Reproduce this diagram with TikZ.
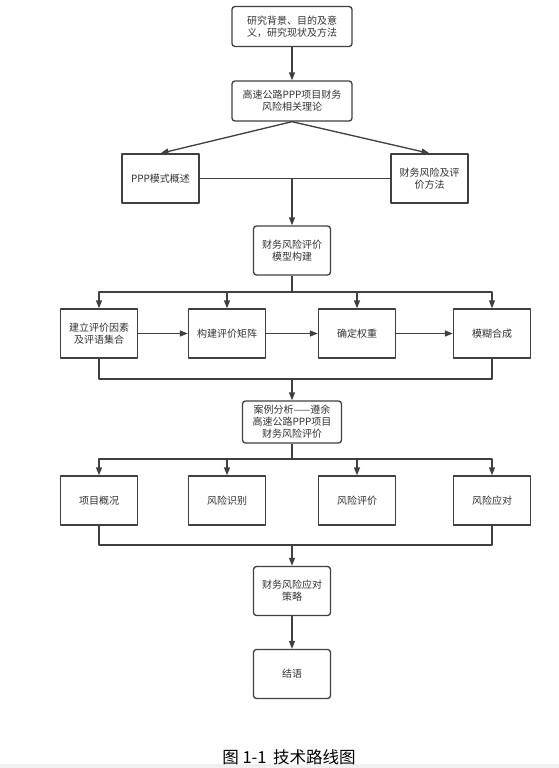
\documentclass[tikz,border=0pt]{standalone}
\usepackage{fontspec}
\setmainfont{Noto Sans CJK SC}
\usetikzlibrary{arrows.meta}
\definecolor{linegray}{HTML}{404040}
\definecolor{textgray}{HTML}{333333}
\definecolor{bargray}{HTML}{EEF0F4}
\tikzset{
	box/.style={draw=linegray,line width=1pt,fill=white,text=textgray,font=\fontsize{7.5pt}{9pt}\selectfont,align=center,inner sep=0pt,minimum width=57.75pt,minimum height=36.75pt},
	rbox/.style={box,rounded corners=2.25pt},
	link/.style={draw=linegray,line width=1pt},
}
\begin{document}
\begin{tikzpicture}[>={Triangle[length=6pt,width=4.5pt]},x=0.75pt,y=-0.75pt,line join=round]
	\useasboundingbox (0,0) rectangle (559,768);
	\fill[bargray] (0,764) rectangle (559,768);
	\def\ya{333.5}
	\def\yb{500.5}
	% top part
	\node[rbox,minimum width=90pt,minimum height=30pt] (research) at (292,26.5) {研究背景、目的及意\\义，研究现状及方法};
	\node[rbox,minimum width=90pt,minimum height=30pt] (theory) at (292,101) {高速公路PPP项目财务\\风险相关理论};
	\node[box] (ppp) at (160.5,178.5) {PPP模式概述};
	\node[box] (method) at (429.5,178.5) {财务风险及评\\价方法};
	\node[rbox] (model) at (292,250.5) {财务风险评价\\模型构建};
	% evaluation steps
	\node[box] (factor) at (99,\ya) {建立评价因素\\及评语集合};
	\node[box] (matrix) at (227,\ya) {构建评价矩阵};
	\node[box] (weight) at (357,\ya) {确定权重};
	\node[box] (fuzzy) at (492,\ya) {模糊合成};
	\node[rbox,minimum width=74.25pt,minimum height=31.5pt] (case) at (292,422) {案例分析——遵余\\高速公路PPP项目\\财务风险评价};
	% case study
	\node[box] (survey) at (99,\yb) {项目概况};
	\node[box] (identify) at (227,\yb) {风险识别};
	\node[box] (evaluate) at (357,\yb) {风险评价};
	\node[box] (respond) at (492,\yb) {风险应对};
	\node[rbox] (strategy) at (292,591) {财务风险应对\\策略};
	\node[rbox] (conclusion) at (292,674) {结语};
	\node[font=\fontsize{12.4pt}{14pt}\selectfont] (caption) at (289,757) {图 1-1\, 技术路线图};
	\coordinate (busa) at (292,292);
	\coordinate (busb) at (292,379);
	\coordinate (busc) at (292,459);
	\coordinate (busd) at (292,545);
	% connectors
	\draw[link,->] (research) -- (theory);
	\draw[link,->] (theory.south) -- (ppp.north);
	\draw[link,->] (theory.south) -- (method.north);
	\draw[link] (ppp) -- (method);
	\draw[link,->] (ppp -| model) -- (model);
	\draw[link] (model) -- (busa);
	\draw[link,->] (busa) -| (factor);
	\draw[link,->] (busa) -| (matrix);
	\draw[link,->] (busa) -| (weight);
	\draw[link,->] (busa) -| (fuzzy);
	\draw[link,->] (factor) -- (matrix);
	\draw[link,->] (matrix) -- (weight);
	\draw[link,->] (weight) -- (fuzzy);
	\draw[link] (factor.south) |- (busb) -| (fuzzy.south);
	\draw[link,->] (busb) -- (case);
	\draw[link] (case) -- (busc);
	\draw[link,->] (busc) -| (survey);
	\draw[link,->] (busc) -| (identify);
	\draw[link,->] (busc) -| (evaluate);
	\draw[link,->] (busc) -| (respond);
	\draw[link] (survey.south) |- (busd) -| (respond.south);
	\draw[link,->] (busd) -- (strategy);
	\draw[link,->] (strategy) -- (conclusion);
\end{tikzpicture}
\end{document}
